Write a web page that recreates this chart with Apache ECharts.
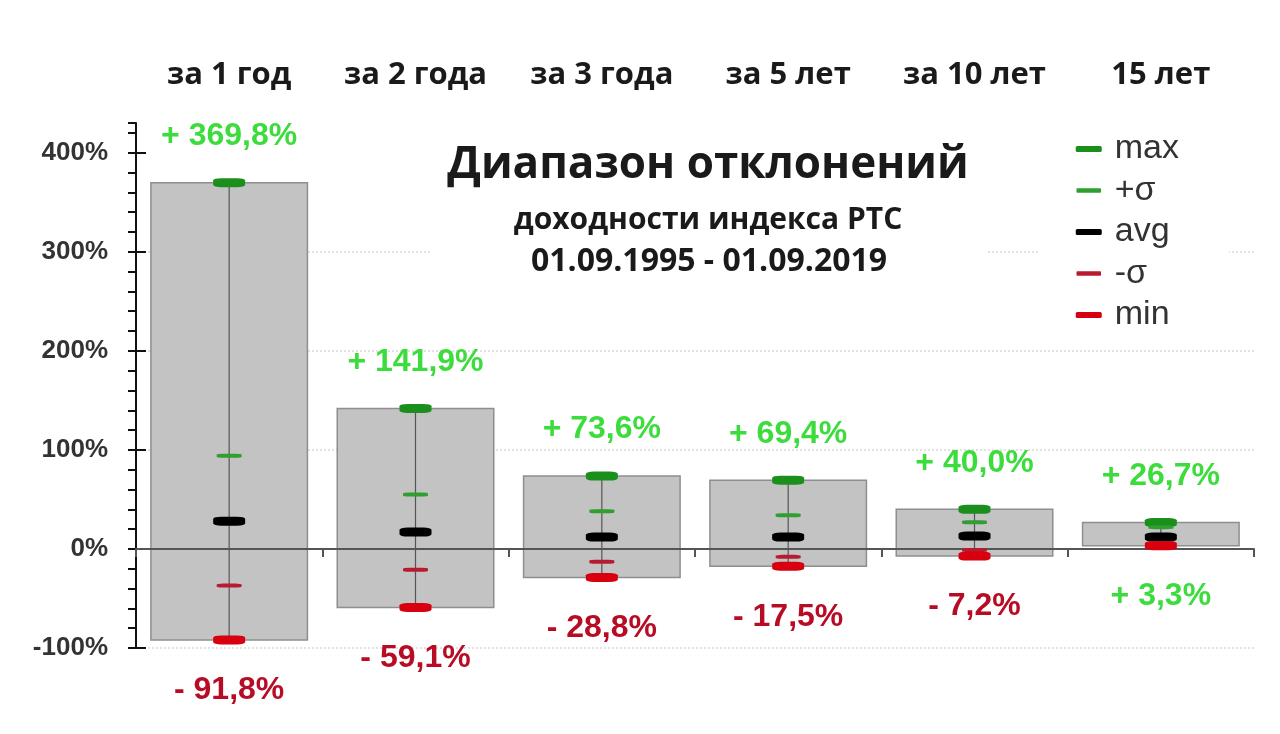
<!DOCTYPE html>
<html>
<head>
<meta charset="utf-8">
<script src="https://cdn.jsdelivr.net/npm/echarts@6/dist/echarts.min.js"></script>
<style>
html, body { margin: 0; background: #fff; }
#chart { width: 1280px; height: 734px; }
</style>
</head>
<body>
<div id="chart"></div>
<script>
var categories = ['за 1 год', 'за 2 года', 'за 3 года', 'за 5 лет', 'за 10 лет', '15 лет'];
var maxVals = [369.8, 141.9, 73.6, 69.4, 40.0, 26.7];
var plusSigma = [94, 55, 38, 34, 27, 22];
var avgVals = [28, 17, 12, 12, 13, 12];
var minusSigma = [-37, -21, -13, -8, -1, 6];
var minVals = [-91.8, -59.1, -28.8, -17.5, -7.2, 3.3];
var yTickLabels = [-100, 0, 100, 200, 300, 400];

var GREEN_TXT = '#3ddc3d';
var RED_TXT = '#b80c24';

function fmt(v) {
    return (v < 0 ? '- ' : '+ ') + Math.abs(v).toFixed(1).replace('.', ',') + '%';
}

// grey range box + thin whisker from min to max
function renderRange(params, api) {
    var lo = api.coord([api.value(0), api.value(1)]);
    var hi = api.coord([api.value(0), api.value(2)]);
    var w = api.size([1, 0])[0] * 0.84;
    return {
        type: 'group',
        children: [{
            type: 'rect',
            shape: { x: lo[0] - w / 2, y: hi[1], width: w, height: lo[1] - hi[1] },
            style: { fill: '#c3c3c3', stroke: '#8e8e8e', lineWidth: 1.5 }
        }, {
            type: 'line',
            shape: { x1: lo[0], y1: lo[1], x2: hi[0], y2: hi[1] },
            style: { stroke: '#555', lineWidth: 1.2 }
        }]
    };
}

var chart = echarts.init(document.getElementById('chart'));

var labelFont = { fontSize: 32, fontWeight: 'bold', fontFamily: 'Liberation Sans' };

function marker(name, values, size, color) {
    return {
        name: name,
        type: 'scatter',
        z: 10,
        symbol: 'roundRect',
        symbolSize: size,
        itemStyle: { color: color, opacity: 1 },
        data: values
    };
}

var maxSeries = marker('max', maxVals, [32, 9], '#1b8f1b');
maxSeries.label = Object.assign({ show: true, position: 'top', distance: 26, color: GREEN_TXT,
    formatter: function (p) { return fmt(p.value); } }, labelFont);

var minSeries = marker('min', minVals.map(function (v) {
    return { value: v, label: { color: v < 0 ? RED_TXT : GREEN_TXT } };
}), [32, 9], '#d8000f');
minSeries.label = Object.assign({ show: true, position: 'bottom', distance: 30,
    formatter: function (p) { return fmt(p.value); } }, labelFont);

var option = {
    animation: false,
    backgroundColor: '#fff',
    grid: { left: 136, right: 26, top: 123, bottom: 86 },
    graphic: [{
        // white box behind the title block hides the grid lines there
        type: 'rect', z: 1,
        shape: { x: 430, y: 135, width: 557, height: 150 },
        style: { fill: '#fff' }
    }, {
        type: 'text', x: 708, y: 165, z: 2,
        style: { text: 'Диапазон отклонений', font: 'bold 44px "Open Sans"', fill: '#1a1a1a', align: 'center', verticalAlign: 'middle' }
    }, {
        type: 'text', x: 708, y: 220, z: 2,
        style: { text: 'доходности индекса РТС', font: 'bold 30px "Open Sans"', fill: '#1a1a1a', align: 'center', verticalAlign: 'middle' }
    }, {
        type: 'text', x: 709, y: 262, z: 2,
        style: { text: '01.09.1995 - 01.09.2019', font: 'bold 32px "Open Sans"', fill: '#1a1a1a', align: 'center', verticalAlign: 'middle' }
    }],
    legend: {
        orient: 'vertical',
        left: 1040,
        top: 127,
        padding: [5, 50, 5, 35],
        backgroundColor: '#fff',
        itemWidth: 26,
        itemHeight: 6,
        itemGap: 7.5,
        icon: 'roundRect',
        selectedMode: false,
        textStyle: { fontSize: 34, fontFamily: 'Liberation Sans', color: '#333', padding: [0, 0, 0, 8] },
        data: [
            { name: 'max' },
            { name: '+σ', itemStyle: { borderColor: '#fff', borderWidth: 1.5 } },
            { name: 'avg' },
            { name: '-σ', itemStyle: { borderColor: '#fff', borderWidth: 1.5 } },
            { name: 'min' }
        ]
    },
    xAxis: [{
        type: 'category',
        data: categories,
        position: 'bottom',
        z: 5,
        axisLine: { onZero: true, lineStyle: { color: '#555', width: 2 } },
        axisTick: { show: true, length: 8, lineStyle: { color: '#555', width: 2 } },
        axisLabel: { show: false },
        splitLine: { show: false }
    }, {
        type: 'category',
        data: categories,
        position: 'top',
        axisLine: { show: false, onZero: false },
        axisTick: { show: false },
        axisLabel: { margin: 32, fontSize: 31, fontWeight: 'bold', fontFamily: 'Open Sans', color: '#1a1a1a' }
    }],
    yAxis: [{
        type: 'value',
        min: -100,
        max: 430,
        interval: 20,
        axisLine: { show: true, lineStyle: { color: '#111', width: 2 } },
        axisTick: { show: true, length: 8, lineStyle: { color: '#111', width: 2 } },
        axisLabel: {
            margin: 28,
            fontSize: 26,
            fontWeight: 'bold',
            fontFamily: 'Liberation Sans',
            color: '#333',
            formatter: function (v) { return yTickLabels.indexOf(v) >= 0 ? v + '%' : ''; }
        },
        splitLine: { show: false }
    }, {
        type: 'value',
        min: -100,
        max: 430,
        interval: 100,
        position: 'left',
        axisLine: { show: false },
        axisTick: { show: true, inside: true, length: 10, customValues: yTickLabels, lineStyle: { color: '#111', width: 2 } },
        axisLabel: { show: false },
        splitLine: { show: true, showMaxLine: false, lineStyle: { color: '#e2e2e2', type: 'dotted', width: 2 } }
    }],
    series: [{
        type: 'custom',
        renderItem: renderRange,
        encode: { x: 0, y: [1, 2] },
        z: 2,
        silent: true,
        data: categories.map(function (c, i) { return [i, minVals[i], maxVals[i]]; })
    },
        maxSeries,
        marker('+σ', plusSigma, [25, 4], '#2f9f2f'),
        marker('avg', avgVals, [32, 9], '#000'),
        marker('-σ', minusSigma, [25, 4], '#b81a30'),
        minSeries
    ]
};

chart.setOption(option);
</script>
</body>
</html>
